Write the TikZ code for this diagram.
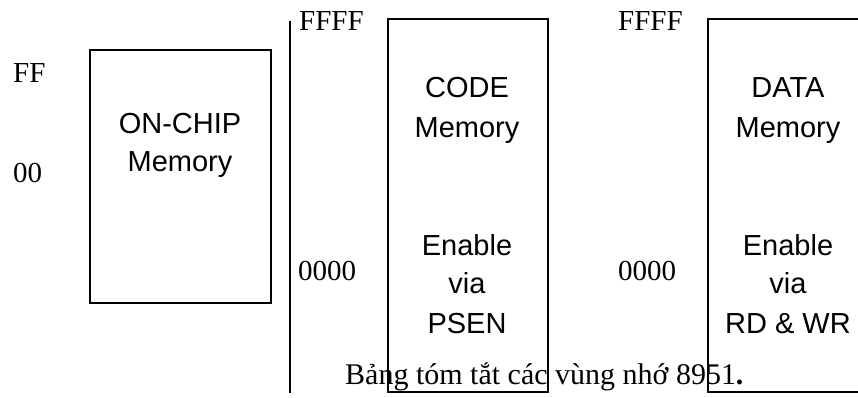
\documentclass[tikz,border=0pt]{standalone}
\usepackage{fontspec}
\setmainfont{Liberation Serif}
\setsansfont{Liberation Sans}
\usetikzlibrary{positioning}
\tikzset{
  membox/.style={draw=black,line width=1.8pt,inner sep=0pt},
  memtxt/.style={font=\fontsize{29}{38}\selectfont\sffamily,anchor=base,inner sep=0pt},
  addrtxt/.style={font=\fontsize{29}{38}\selectfont\rmfamily,anchor=base west,inner sep=0pt},
}

\begin{document}
\begin{tikzpicture}[x=1pt,y=-1pt]
  \useasboundingbox (0,0) rectangle (858,397);
  \clip (0,0) rectangle (858,397);

  % Memory blocks.
  \node[membox,line width=1.2pt,minimum width=181pt,minimum height=253pt] (onchip) at (180.5,176.5) {};
  \node[membox,minimum width=160pt,minimum height=373pt] (code) at (468,205.5) {};
  \node[membox,minimum width=170pt,minimum height=373pt] (data) at (793,205.5) {};

  % Separator between internal and external space.
  \coordinate (sepTop) at (290,21);
  \coordinate (sepBot) at (290,393);
  \draw[line width=1.8pt] (sepTop) -- (sepBot);

  % Address limits.
  \node[addrtxt] (onFF)   at (13,82)   {FF};
  \node[addrtxt] (on00)   at (13,182)  {00};
  \node[addrtxt] (codeFF) at (299,30)  {FFFF};
  \node[addrtxt] (code00) at (298,280) {0000};
  \node[addrtxt] (dataFF) at (618,30)  {FFFF};
  \node[addrtxt] (data00) at (618,280) {0000};

  % Block labels.
  \node[memtxt] (onchipA) at (180,133) {ON-CHIP};
  \node[memtxt] (onchipB) at (180,171) {Memory};
  \node[memtxt] (codeA) at (467,97)  {CODE};
  \node[memtxt] (codeB) at (467,137) {Memory};
  \node[memtxt] (codeC) at (467,255) {Enable};
  \node[memtxt] (codeD) at (467,293) {via};
  \node[memtxt] (codeE) at (467,333) {PSEN};
  \node[memtxt] (dataA) at (788,97)  {DATA};
  \node[memtxt] (dataB) at (788,137) {Memory};
  \node[memtxt] (dataC) at (788,255) {Enable};
  \node[memtxt] (dataD) at (788,293) {via};
  \node[memtxt] (dataE) at (788,333) {RD \& WR};

  % Caption.
  \node[addrtxt,font=\fontsize{30}{38}\selectfont\rmfamily] (caption) at (345,384)
       {Bảng tóm tắt các vùng nhớ 8951\textbf{.}};
\end{tikzpicture}
\end{document}
